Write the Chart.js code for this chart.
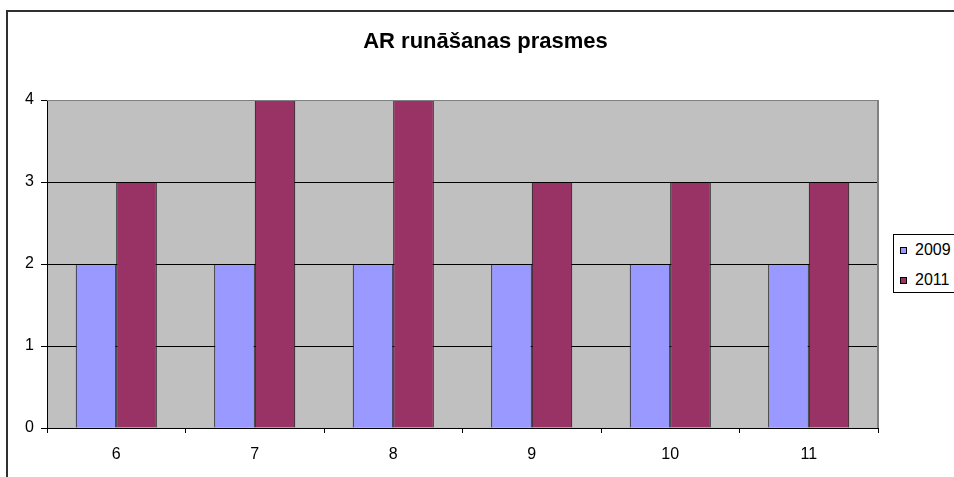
<!DOCTYPE html>
<html>
<head>
<meta charset="utf-8">
<script src="https://cdn.jsdelivr.net/npm/chart.js@4/dist/chart.umd.min.js"></script>
<style>
  html, body { margin: 0; padding: 0; background: #fff; overflow: hidden; width: 954px; height: 477px; }
  #wrap { position: relative; width: 954px; height: 477px; overflow: hidden; }
  #frame { position: absolute; left: 6px; top: 10px; width: 1000px; height: 1000px; border: 2px solid #303030; box-sizing: border-box; }
  #c { position: absolute; left: 0; top: 0; }
  #legend { position: absolute; left: 893px; top: 234px; width: 200px; height: 57px; border: 1px solid #000; border-right: none; background: #fff;
            font-family: "Liberation Sans", Arial, sans-serif; font-size: 16px; color: #000; }
  #legend .sw { position: absolute; left: 6px; width: 5px; height: 5px; border: 1px solid #000; }
  #legend .lb { position: absolute; left: 21px; line-height: 18px; height: 18px; white-space: nowrap; }
</style>
</head>
<body>
<div id="wrap">
  <div id="frame"></div>
  <canvas id="c" width="971" height="477"></canvas>
  <div id="legend"></div>
</div>
<script>
// Chart content
const chartTitle = 'AR runāšanas prasmes';
const categories = ['6', '7', '8', '9', '10', '11'];
const seriesNames = ['2009', '2011'];
const values2009 = [2, 2, 2, 2, 2, 2];
const values2011 = [3, 4, 4, 3, 3, 3];
const yTicks = [0, 1, 2, 3, 4];

const seriesColors = ['#9999FF', '#993366'];
const FONT = '"Liberation Sans", Arial, sans-serif';

// Grey plot background and its grey top/right edge
const plotArea = {
  id: 'plotArea',
  beforeDraw(chart) {
    const a = chart.chartArea, ctx = chart.ctx;
    ctx.save();
    ctx.fillStyle = '#C0C0C0';
    ctx.fillRect(a.left, a.top, a.right - a.left, a.bottom - a.top);
    ctx.restore();
  },
  afterDraw(chart) {
    const a = chart.chartArea, ctx = chart.ctx;
    ctx.save();
    ctx.strokeStyle = '#808080';
    ctx.lineWidth = 1;
    ctx.beginPath();
    ctx.moveTo(a.left, a.top + 0.5);
    ctx.lineTo(a.right, a.top + 0.5);
    ctx.stroke();
    ctx.lineWidth = 2;
    ctx.beginPath();
    ctx.moveTo(a.right, a.top);
    ctx.lineTo(a.right, a.bottom);
    ctx.stroke();
    ctx.restore();
  }
};

new Chart(document.getElementById('c'), {
  type: 'bar',
  data: {
    labels: categories,
    datasets: [
      { label: seriesNames[0], data: values2009, backgroundColor: seriesColors[0], borderColor: '#000', borderWidth: 1 },
      { label: seriesNames[1], data: values2011, backgroundColor: seriesColors[1], borderColor: '#000', borderWidth: 1 }
    ]
  },
  options: {
    responsive: false,
    animation: false,
    devicePixelRatio: 1,
    layout: { padding: 0 },
    datasets: { bar: { categoryPercentage: 0.585, barPercentage: 1 } },
    plugins: {
      legend: { display: false },
      tooltip: { enabled: false },
      title: {
        display: true,
        text: chartTitle,
        color: '#000',
        font: { family: FONT, size: 22, weight: 'bold', lineHeight: 1.2 },
        padding: { top: 29, bottom: 44.6 }
      }
    },
    scales: {
      x: {
        offset: true,
        grid: { offset: true, drawOnChartArea: false, drawTicks: true, tickLength: 5, tickColor: '#000', color: '#000' },
        border: { display: true, color: '#000', width: 1 },
        ticks: { color: '#000', font: { family: FONT, size: 16 }, padding: 12, maxRotation: 0, autoSkip: false },
        afterFit(scale) { scale.height = 49; }
      },
      y: {
        min: yTicks[0],
        max: yTicks[yTicks.length - 1],
        afterBuildTicks(scale) { scale.ticks = yTicks.map(v => ({ value: v })); },
        grid: {
          color: (c) => (c.tick && c.tick.value === yTicks[yTicks.length - 1]) ? '#808080' : '#000',
          tickColor: '#000',
          tickLength: 6,
          lineWidth: 1
        },
        border: { display: true, color: '#000', width: 1 },
        ticks: { color: '#000', font: { family: FONT, size: 16 }, padding: 7 },
        afterFit(scale) { scale.width = 47; }
      },
      // empty band on the right that keeps room for the legend
      side: {
        type: 'linear',
        position: 'right',
        display: true,
        grid: { display: false, drawTicks: false },
        border: { display: false },
        ticks: { display: false },
        afterFit(scale) { scale.width = 93; }
      }
    }
  },
  plugins: [plotArea]
});

// Legend box
const legend = document.getElementById('legend');
seriesNames.forEach((name, i) => {
  const sw = document.createElement('div');
  sw.className = 'sw';
  sw.style.top = (12 + i * 30) + 'px';
  sw.style.background = seriesColors[i];
  legend.appendChild(sw);
  const lb = document.createElement('div');
  lb.className = 'lb';
  lb.style.top = (5.6 + i * 30) + 'px';
  lb.textContent = name;
  legend.appendChild(lb);
});
</script>
</body>
</html>
